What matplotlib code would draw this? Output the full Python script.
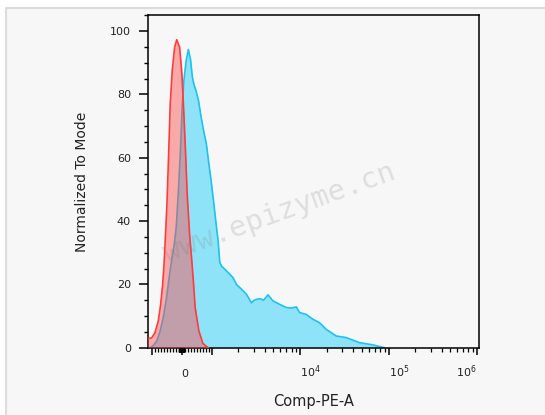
import matplotlib.pyplot as plt
from matplotlib.lines import Line2D
from matplotlib.patches import Rectangle
from matplotlib.ticker import FixedLocator, MultipleLocator

plt.rcParams['mathtext.default'] = 'regular'

# Comp-PE-A values and normalized counts
red_x = [-1105, -995, -885, -776, -696, -630, -577, -487, -431, -378, -312, -232, -162, -66, 10,
         76, 133, 186, 265, 335, 391, 451, 574, 706, 822, 887]
red_y = [2.8, 3.1, 4.7, 8.4, 13.7, 20, 27.5, 45.4, 61.2, 77, 87.5, 94.9, 97.3, 94.9, 86.5,
         73.8, 61.2, 48.5, 35.9, 28, 21, 12.7, 5.3, 1.4, 0.4, 0]

blue_x = [-1105, -1049, -995, -895, -829, -720, -610, -504, -388, -322, -239, -179, -99, -33, 20,
          76, 153, 225, 298, 358, 408, 484, 564, 650, 723, 822, 895, 982, 1043, 1113,
          1182, 1235, 1291, 1406, 1601, 1745, 1905, 2170, 2471, 2813, 3065, 3490, 3873, 4329, 4930,
          5865, 6978, 7943, 9045, 9856, 11730, 13920, 16560, 19710, 25550, 33130, 46800, 66100, 89500]
blue_y = [0, 0, 0.2, 1.2, 2.1, 5, 9.5, 15.5, 24, 28, 33, 38, 50.6, 63.3, 76,
          84.4, 90.7, 94.2, 91, 85.5, 83.3, 81, 78, 72.8, 69, 64.5, 59, 52.7, 47, 40,
          33.8, 27, 25.8, 24.8, 23.2, 22.1, 20, 18.5, 16.9, 14.2, 15.1, 15.5, 15, 16.7, 14.8,
          13.7, 12.7, 12.5, 12.9, 11.1, 10.5, 9, 7.9, 5.8, 3.7, 3.2, 1.6, 0.9, 0]

x_ticks = [-1000, 0, 1000, 1e4, 1e5, 1e6]
x_labels = ['', '0', '', r'$10^4$', r'$10^5$', r'$10^6$']
y_ticks = [0, 20, 40, 60, 80, 100]

fig = plt.figure(figsize=(5.45, 4.15), dpi=100, facecolor='white')
# light grey panel with a border only on its left and top
x0, y1 = 6 / 545, 1 - 8 / 415
fig.add_artist(Rectangle((x0, 0), 1 - x0, y1, transform=fig.transFigure,
                         facecolor='#f7f7f7', edgecolor='none', zorder=-10))
fig.add_artist(Line2D([x0, x0, 1], [0, y1, y1], transform=fig.transFigure,
                      color='#dcdcdc', lw=1.5, zorder=-9))

ax = fig.add_axes([0.271, 0.1622, 0.607, 0.8009])
ax.set_facecolor('#f7f7f7')

ax.fill_between(blue_x, blue_y, color='#8fe3f8', lw=0, zorder=1)
ax.plot(blue_x, blue_y, color='#1cc2f0', lw=1.2, zorder=2)
ax.fill_between(red_x, red_y, color='#ff4a4a', alpha=0.45, lw=0, zorder=3)
ax.plot(red_x, red_y, color='#ff3b3b', lw=1.2, zorder=4)

ax.set_xscale('symlog', linthresh=1000, linscale=0.306)
ax.set_xlim(-1105, 1.04e6)
ax.set_ylim(0, 105)

# biexponential-style minor ticks
minor = [v for v in range(-900, 0, 100)] + [v for v in range(-90, 100, 10) if v != 0] \
    + [v for v in range(100, 1000, 100)]
for dec in (1e3, 1e4, 1e5):
    minor += [k * dec for k in range(2, 10)]
ax.xaxis.set_minor_locator(FixedLocator(minor))
ax.set_xticks(x_ticks)
ax.set_xticklabels(x_labels, fontsize=8, color='#222222')
for lbl, t in zip(ax.get_xticklabels(), x_ticks):
    lbl.set_va('baseline')
    lbl.set_ha('right' if t == 1e6 else 'left')

ax.set_yticks(y_ticks)
ax.yaxis.set_minor_locator(MultipleLocator(5))
ax.tick_params(axis='y', labelsize=8, labelcolor='#222222')

ax.tick_params(axis='x', which='major', length=5, width=1.1, pad=16)
ax.tick_params(axis='x', which='minor', length=2.9, width=0.9)
ax.tick_params(axis='y', which='major', length=6.5, width=1.1, pad=5.5)
ax.tick_params(axis='y', which='minor', length=3.2, width=1.0)
for s in ax.spines.values():
    s.set_linewidth(1.1)

ax.set_xlabel('Comp-PE-A', fontsize=10.5, color='#222222')
ax.xaxis.set_label_coords(0.5, -0.139)
ax.set_ylabel('Normalized To Mode', fontsize=10, color='#222222')
ax.yaxis.set_label_coords(-0.178, 0.5)

fig.text(0.512, 0.487, 'www.epizyme.cn', rotation=20, ha='center', va='center',
         rotation_mode='anchor', fontsize=21, family='DejaVu Sans Mono',
         color='#7a7a7a', alpha=0.2, zorder=10)

plt.savefig('out.png', dpi=100, facecolor=fig.get_facecolor())
